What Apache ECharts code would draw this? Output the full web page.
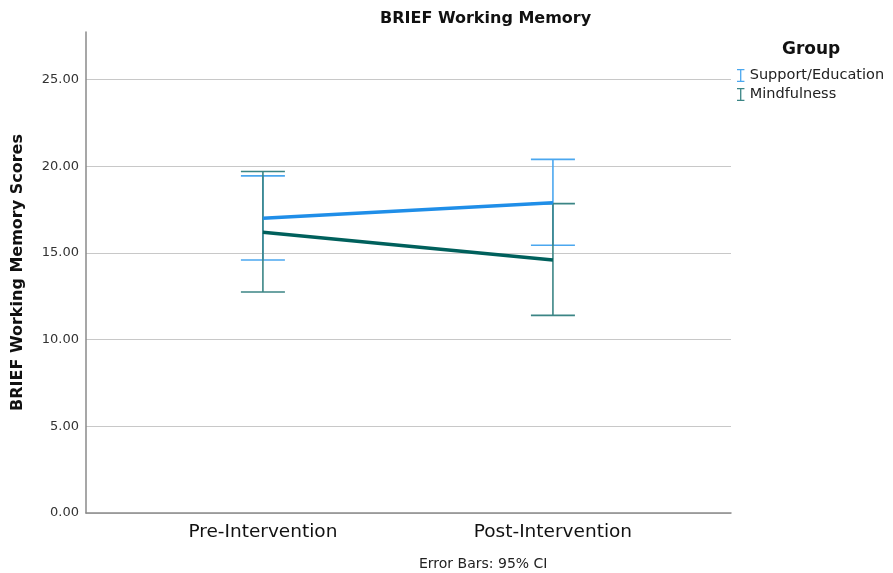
<!DOCTYPE html>
<html>
<head>
<meta charset="utf-8">
<script src="https://cdn.jsdelivr.net/npm/echarts@6/dist/echarts.min.js"></script>
<style>
  html, body { margin: 0; padding: 0; background: #fff; }
  #chart { width: 893px; height: 573px; }
</style>
</head>
<body>
<div id="chart"></div>
<script>
// Time points on the horizontal axis
const categories = ['Pre-Intervention', 'Post-Intervention'];
const groups = ['Support/Education', 'Mindfulness'];

// Group means
const supportMeans = [17.0, 17.9];
const mindfulMeans = [16.2, 14.6];

// 95% confidence interval bounds
const supportLow = [14.6, 15.45];
const supportHigh = [19.45, 20.4];
const mindfulLow = [12.75, 11.4];
const mindfulHigh = [19.7, 17.85];

const yTicks = [0, 5, 10, 15, 20, 25];

const FONT = 'DejaVu Sans';
const BLUE = '#1f8ee8';
const BLUE_BAR = '#4ba7ef';
const TEAL = '#00605c';
const TEAL_BAR = '#3b8585';

const ibeam = 'path://M0,0H8V1.4H4.7V12.6H8V14H0V12.6H3.3V1.4H0Z';

function pointsOf(values) {
  return values.map((v, i) => [i, v]);
}

function barsOf(low, high) {
  return low.map((l, i) => [i, l, high[i]]);
}

function errorBarRenderer(color) {
  return function (params, api) {
    const x = api.value(0);
    const lo = api.coord([x, api.value(1)]);
    const hi = api.coord([x, api.value(2)]);
    const half = 22;
    const style = { stroke: color, lineWidth: 1.6 };
    return {
      type: 'group',
      children: [
        { type: 'line', shape: { x1: lo[0], y1: lo[1], x2: hi[0], y2: hi[1] }, style },
        { type: 'line', shape: { x1: hi[0] - half, y1: hi[1], x2: hi[0] + half, y2: hi[1] }, style },
        { type: 'line', shape: { x1: lo[0] - half, y1: lo[1], x2: lo[0] + half, y2: lo[1] }, style }
      ]
    };
  };
}

const chart = echarts.init(document.getElementById('chart'), null, { renderer: 'canvas' });

chart.setOption({
  animation: false,
  backgroundColor: '#ffffff',
  title: [
    {
      text: 'BRIEF Working Memory',
      left: 375, top: 6,
      textStyle: { fontFamily: FONT, fontSize: 16, fontWeight: 'bold', color: '#111' }
    },
    {
      text: 'Group',
      left: 777, top: 36,
      textStyle: { fontFamily: FONT, fontSize: 17, fontWeight: 'bold', color: '#111' }
    },
    {
      text: 'Error Bars: 95% CI',
      left: 414, top: 552,
      textStyle: { fontFamily: FONT, fontSize: 14, fontWeight: 'normal', color: '#222' }
    }
  ],
  legend: {
    orient: 'vertical',
    left: 732, top: 63,
    itemWidth: 8, itemHeight: 13, itemGap: 4,
    textStyle: { fontFamily: FONT, fontSize: 14.5, color: '#222' },
    data: [
      { name: groups[0], icon: ibeam, itemStyle: { color: BLUE_BAR } },
      { name: groups[1], icon: ibeam, itemStyle: { color: TEAL_BAR } }
    ]
  },
  grid: { left: 86, right: 162, top: 32, bottom: 60 },
  xAxis: {
    type: 'value',
    min: -0.61, max: 1.614,
    axisLine: { show: true, onZero: false, lineStyle: { color: '#8a8a8a', width: 1.5 } },
    axisTick: { show: false },
    splitLine: { show: false },
    axisLabel: {
      customValues: [0, 1],
      formatter: v => categories[Math.round(v)] || '',
      fontFamily: FONT, fontSize: 18.5, color: '#111', margin: 10
    }
  },
  yAxis: {
    type: 'value',
    min: 0, max: 27.75,
    name: 'BRIEF Working Memory Scores',
    nameLocation: 'middle',
    nameGap: 60,
    nameTextStyle: { fontFamily: FONT, fontSize: 16, fontWeight: 'bold', color: '#111' },
    axisLine: { show: true, onZero: false, lineStyle: { color: '#8a8a8a', width: 1.5 } },
    axisTick: { show: false, customValues: yTicks },
    splitLine: { show: true, lineStyle: { color: '#c8c8c8', width: 1.2 } },
    axisLabel: {
      customValues: yTicks,
      formatter: v => v.toFixed(2),
      fontFamily: FONT, fontSize: 13, color: '#333', margin: 7
    }
  },
  series: [
    {
      name: groups[0], type: 'custom',
      renderItem: errorBarRenderer(BLUE_BAR),
      encode: { x: 0, y: [1, 2] },
      data: barsOf(supportLow, supportHigh), z: 2
    },
    {
      name: groups[1], type: 'custom',
      renderItem: errorBarRenderer(TEAL_BAR),
      encode: { x: 0, y: [1, 2] },
      data: barsOf(mindfulLow, mindfulHigh), z: 3
    },
    {
      name: groups[0], type: 'line',
      data: pointsOf(supportMeans),
      symbol: 'none',
      lineStyle: { color: BLUE, width: 3.5 },
      itemStyle: { color: BLUE }, z: 4
    },
    {
      name: groups[1], type: 'line',
      data: pointsOf(mindfulMeans),
      symbol: 'none',
      lineStyle: { color: TEAL, width: 3.5 },
      itemStyle: { color: TEAL }, z: 4
    }
  ]
});
</script>
</body>
</html>
